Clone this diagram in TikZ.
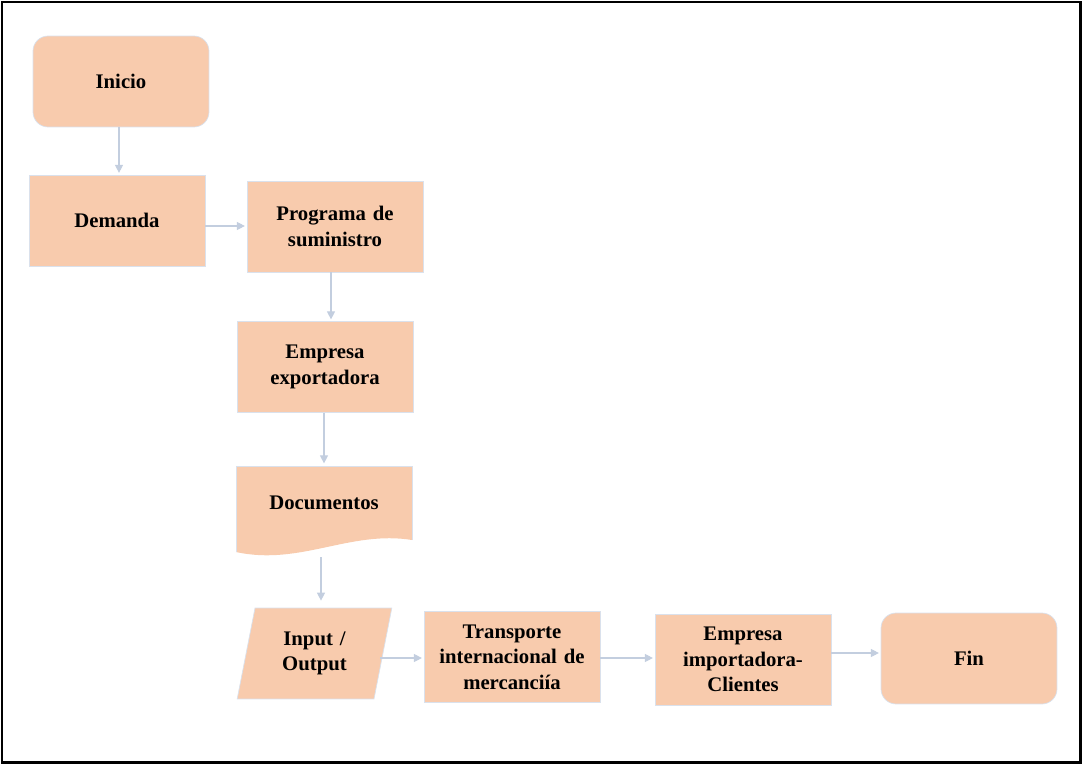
\documentclass[tikz,border=0pt]{standalone}
\usepackage{fontspec}
\setmainfont{Liberation Serif}
\usetikzlibrary{arrows.meta, shapes.geometric}

\definecolor{peach}{HTML}{F8CBAD}
\definecolor{edgeline}{HTML}{DAE1EC}
\definecolor{flowline}{HTML}{C3CEDF}

\tikzstyle{step box}=[rectangle, fill=peach, draw=edgeline, line width=0.4pt,
                      minimum width=3.52cm, minimum height=1.82cm,
                      text width=3.3cm, align=center, inner sep=0pt,
                      font=\fontsize{11.8}{14.5}\selectfont\bfseries]
\tikzstyle{end box}=[step box, rounded corners=0.3cm]
\tikzstyle{flow}=[-{Triangle[length=1.6mm, width=1.6mm]}, draw=flowline,
                  line width=0.6pt, shorten >=1pt]

\begin{document}
\begin{tikzpicture}[x=0.02cm, y=-0.02cm]

\useasboundingbox (0, 0) rectangle (1082, 764);
\draw [line width=0.06cm] (2, 2) rectangle (1080, 762);

%%%%%%%%%%%%%%%%%%
%%%%%%%%%%%%%%%%%%
\node (Inicio) at (121, 81.5) [end box] {Inicio};

\node (Demanda) at (117, 220.5) [step box] {Demanda};

\node (Programa) at (335, 226.5) [step box] {Programa de\\ suministro};

\node (Exportadora) at (325, 367) [step box] {Empresa\\ exportadora};

%%%%%%%%%%%%%%%%%%
\fill [peach] (236, 466) -- (412, 466) -- (412, 540)
      .. controls (350, 530) and (300, 566) .. (236, 552) -- cycle;
\draw [edgeline, line width=0.4pt] (236, 552) -- (236, 466) -- (412, 466) -- (412, 540);

\node (Documentos) at (324, 503) [step box, fill=none, draw=none, minimum height=1.5cm] {Documentos};

\coordinate (Documentos_bottom) at (321, 557);

%%%%%%%%%%%%%%%%%%
\node (InOut) at (314.5, 653.5) [step box, trapezium, trapezium left angle=71,
      trapezium right angle=109, trapezium stretches=true,
      minimum width=3.1cm, text width=2cm] {Input /\\ Output};

\node (Transporte) at (512, 657) [step box] {Transporte\\ internacional de\\ mercanciía};

\node (Importadora) at (743, 659.5) [step box] {Empresa\\ importadora-\\ Clientes};

\node (Fin) at (969, 658.5) [end box] {Fin};

%%%%%%%%%%%%%%%%%%%%
%%%%%%%%%%%%%%%%%%%%
\draw [flow] (Inicio.south -| 119, 0) to (Demanda.north -| 119, 0);

\draw [flow] (Demanda.east |- 0, 226) to (Programa.west |- 0, 226);

\draw [flow] (Programa.south -| 331, 0) to (Exportadora.north -| 331, 0);

\draw [flow] (Exportadora.south -| 324, 0) to (Documentos.north -| 324, 0);

\draw [flow, shorten >=0.14cm] (Documentos_bottom) to (InOut.north -| 321, 0);

%%%%%%%%%%%%%%%%%%%%
\draw [flow] (380, 658) to (Transporte.west |- 0, 658);

\draw [flow] (Transporte.east |- 0, 658) to (Importadora.west |- 0, 658);

\draw [flow] (Importadora.east |- 0, 653) to (Fin.west |- 0, 653);

\end{tikzpicture}
\end{document}
